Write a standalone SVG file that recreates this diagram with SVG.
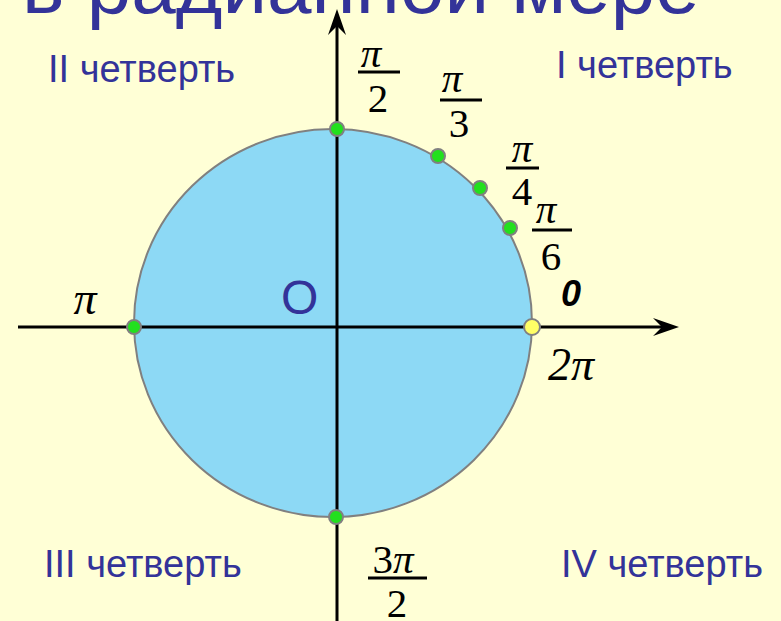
<svg xmlns="http://www.w3.org/2000/svg" width="781" height="621" viewBox="0 0 781 621">
<defs>
<style>
.title{font-family:"Liberation Sans",Arial,sans-serif;font-size:80px;fill:#333399}
.q{font-family:"Liberation Sans",Arial,sans-serif;font-size:38px;fill:#333399}
.o{font-family:"Liberation Sans",Arial,sans-serif;font-size:48px;fill:#333399}
.m{font-family:"Liberation Serif","Times New Roman",serif;font-size:41px;fill:#000}
.mi{font-style:italic}
.big{font-size:46px}
.zero{font-family:"Liberation Sans",Arial,sans-serif;font-size:36px;font-style:italic;font-weight:bold;fill:#000}
.bar{stroke:#000;stroke-width:3}
.axis{stroke:#000;stroke-width:3;fill:none}
.pt{fill:#22E01E;stroke:#808080;stroke-width:2}
.pty{fill:#FFFF66;stroke:#808080;stroke-width:2}
</style>
<marker id="arr" markerUnits="userSpaceOnUse" markerWidth="30" markerHeight="20" viewBox="0 -10 28 20" refX="12" refY="0" orient="auto">
<path d="M0,-9 L26,0 L0,9 L9,0 Z" fill="#000"/>
</marker>
</defs>
<rect width="781" height="621" fill="#FFFFD6"/>
<text class="title" x="22" y="13">в радианной мере</text>
<g id="circle">
<ellipse cx="333" cy="323" rx="199" ry="194" fill="#8DD9F5" stroke="#808080" stroke-width="2"/>
</g>
<g id="connectors">
<line class="axis" x1="18" y1="327" x2="665" y2="327" marker-end="url(#arr)"/>
<line class="axis" x1="337" y1="625" x2="337" y2="23" marker-end="url(#arr)"/>
</g>
<g id="quadrants">
<text class="q" x="48" y="82">II четверть</text>
<text class="q" x="556" y="78">I четверть</text>
<text class="q" x="44" y="577">III четверть</text>
<text class="q" x="561" y="577">IV четверть</text>
</g>
<g id="origin"><text class="o" x="281" y="314">O</text></g>
<g id="p0">
<circle class="pty" cx="532" cy="327" r="8"/>
<text class="zero" x="571" y="306" text-anchor="middle">0</text>
<text class="m mi big" x="548" y="380">2π</text>
</g>
<g id="p90">
<circle class="pt" cx="337" cy="129" r="7"/>
<text class="m mi" x="371" y="67" text-anchor="middle">π</text>
<line class="bar" x1="358" y1="72" x2="400" y2="72"/>
<text class="m" x="378" y="112" text-anchor="middle">2</text>
</g>
<g id="p60">
<circle class="pt" cx="438" cy="156" r="7"/>
<text class="m mi" x="452" y="92" text-anchor="middle">π</text>
<line class="bar" x1="440" y1="100" x2="482" y2="100"/>
<text class="m" x="459" y="137" text-anchor="middle">3</text>
</g>
<g id="p45">
<circle class="pt" cx="480" cy="188" r="7"/>
<text class="m mi" x="522" y="162" text-anchor="middle">π</text>
<line class="bar" x1="506" y1="168" x2="539" y2="168"/>
<text class="m" x="522" y="205" text-anchor="middle">4</text>
</g>
<g id="p30">
<circle class="pt" cx="510" cy="228" r="7"/>
<text class="m mi" x="546" y="223" text-anchor="middle">π</text>
<line class="bar" x1="532" y1="230" x2="572" y2="230"/>
<text class="m" x="551" y="270" text-anchor="middle">6</text>
</g>
<g id="p180">
<circle class="pt" cx="134" cy="327" r="7"/>
<text class="m mi big" x="85" y="314" text-anchor="middle">π</text>
</g>
<g id="p270">
<circle class="pt" cx="336" cy="517" r="7"/>
<text class="m" x="393" y="573" text-anchor="middle">3<tspan class="mi">π</tspan></text>
<line class="bar" x1="368" y1="578" x2="427" y2="578"/>
<text class="m" x="397" y="617" text-anchor="middle">2</text>
</g>
</svg>
